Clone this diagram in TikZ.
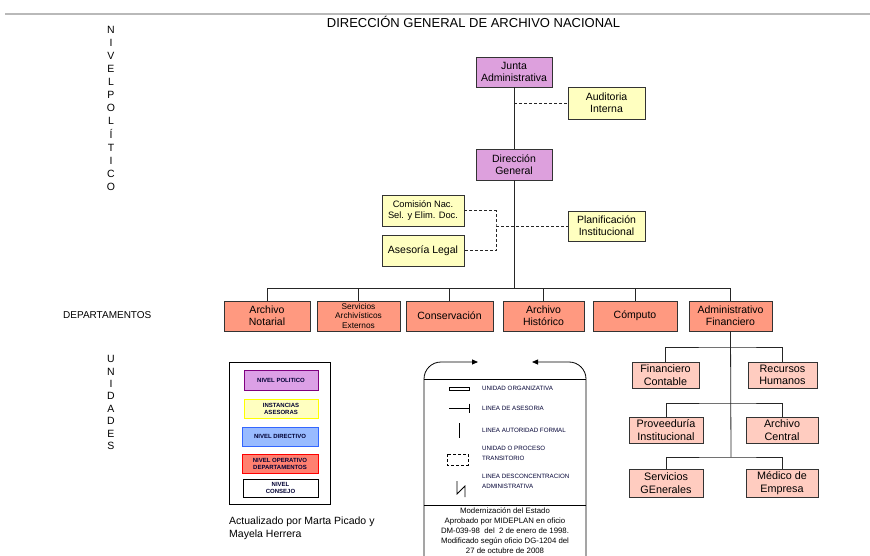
\documentclass[tikz,border=0pt]{standalone}
\usepackage{fontspec}
\setmainfont{Liberation Sans}
\usetikzlibrary{arrows.meta}
\definecolor{polc}{RGB}{221,160,221}
\definecolor{yelc}{RGB}{255,255,192}
\definecolor{depc}{RGB}{255,153,128}
\definecolor{unic}{RGB}{255,204,192}
\definecolor{lpolf}{RGB}{220,160,230}
\definecolor{lpold}{RGB}{128,0,128}
\definecolor{lyeld}{RGB}{255,255,0}
\definecolor{lbluf}{RGB}{153,187,255}
\definecolor{lblud}{RGB}{51,102,255}
\definecolor{lredf}{RGB}{255,128,112}
\definecolor{lredd}{RGB}{255,0,0}
\begin{document}
\begin{tikzpicture}[x=1pt,y=-1pt,
  boxbase/.style={draw=black!80,line width=0.9pt,align=center,inner sep=0pt,
    font=\fontsize{10.5}{12}\selectfont},
  polbox/.style={boxbase,fill=polc,minimum width=76pt,minimum height=30pt},
  asebox/.style={boxbase,fill=yelc,minimum width=77pt,minimum height=31pt},
  depbox/.style={boxbase,fill=depc,minimum height=30pt},
  unibox/.style={boxbase,fill=unic,minimum height=27pt,font=\fontsize{10.8}{12.5}\selectfont},
  conn/.style={line width=0.8pt,draw=black!85},
  advline/.style={conn,dash pattern=on 3pt off 2pt},
  legbox/.style={line width=0.8pt,align=center,inner sep=0pt,minimum width=75pt,minimum height=19pt,
    font=\fontsize{6}{7}\selectfont\bfseries,text=black!80!blue},
  legtxt/.style={anchor=west,align=left,inner sep=0pt,font=\fontsize{6.2}{10.5}\selectfont,text=black!80!blue},
  sidelet/.style={inner sep=0pt,font=\fontsize{10.5}{12}\selectfont}
]
\useasboundingbox (0,0) rectangle (870,556);
% top rule
\draw[gray!55,line width=2.6pt] (5,14) -- (870,14);
\node[inner sep=0pt,font=\fontsize{13}{14}\selectfont] (title) at (473.5,22) {DIRECCIÓN GENERAL DE ARCHIVO NACIONAL};
% side labels
\foreach \l [count=\i from 0] in {N,I,V,E,L,P,O,L,Í,T,I,C,O}
  \node[sidelet] (np\i) at (111,{30+13.05*\i}) {\l};
\node[sidelet,anchor=west,font=\fontsize{10}{12}\selectfont] (deplab) at (63,315) {DEPARTAMENTOS};
\foreach \l [count=\i from 0] in {U,N,I,D,A,D,E,S}
  \node[sidelet] (un\i) at (111,{359+12.45*\i}) {\l};
% political level
\node[polbox] (junta) at (514,72) {Junta\\Administrativa};
\node[asebox,minimum height=32pt] (audit) at (606.5,103) {Auditoria\\Interna};
\node[polbox,minimum height=31pt] (dir) at (514,164.5) {Dirección\\General};
\node[asebox,minimum width=82pt,font=\fontsize{9.3}{11}\selectfont] (comis) at (423,210.5) {Comisión Nac.\\Sel. y Elim. Doc.};
\node[asebox,minimum width=82pt] (legal) at (423,250.5) {Asesoría Legal};
\node[asebox,minimum height=30pt] (plan) at (606.5,226) {Planificación\\Institucional};
\draw[conn] (junta.south) -- (dir.north);
\draw[advline] (junta.south |- audit.west) -- (audit.west);
\coordinate (dj) at (496,226);
\draw[advline] (comis.east) -| (dj) |- (legal.east);
\draw[advline] (dj) -- (plan.west);
% departments
\node[depbox,minimum width=86pt] (an) at (267,316) {Archivo\\Notarial};
\node[depbox,minimum width=83pt,font=\fontsize{8.3}{9.2}\selectfont] (sae) at (358.5,316) {Servicios\\Archivísticos\\Externos};
\node[depbox,minimum width=87pt] (cons) at (449.5,316) {Conservación};
\node[depbox,minimum width=81pt] (ah) at (543.5,316) {Archivo\\Histórico};
\node[depbox,minimum width=84pt] (comp) at (635,316) {Cómputo};
\node[depbox,minimum width=83pt] (af) at (730.5,316) {Administrativo\\Financiero};
\coordinate (bus) at (514,288);
\draw[conn] (dir.south) -- (bus);
\draw[conn] (an.north |- bus) -- (af.north |- bus);
\foreach \d in {an,sae,cons,ah,comp,af}
  \draw[conn] (\d.north |- bus) -- (\d.north);
% units
\node[unibox,minimum width=67pt,minimum height=26pt] (fc) at (665.5,375) {Financiero\\Contable};
\node[unibox,minimum width=69pt,minimum height=26pt] (rh) at (782.5,375) {Recursos\\Humanos};
\node[unibox,minimum width=74pt,minimum height=26pt] (pi) at (666,430) {Proveeduría\\Institucional};
\node[unibox,minimum width=72pt,minimum height=26pt] (ac) at (782,430) {Archivo\\Central};
\node[unibox,minimum width=74pt,minimum height=28pt] (sg) at (666,483) {Servicios\\GEnerales};
\node[unibox,minimum width=72pt,minimum height=28pt] (me) at (782,483) {Médico de\\Empresa};
\coordinate (u1) at (731,347);
\coordinate (u2) at (731,403);
\coordinate (u3) at (731,457);
\draw[conn] (af.south) -- (u3);
\draw[conn] (fc.north) |- (u1) -| (rh.north);
\draw[conn] (pi.north) |- (u2) -| (ac.north);
\draw[conn] (sg.north) |- (u3) -| (me.north);
% legend 1
\draw[line width=0.7pt] (229,362) rectangle (330,504);
\node[legbox,draw=lpold,fill=lpolf,minimum width=74pt,minimum height=20pt] (l1) at (281,380) {NIVEL POLITICO};
\node[legbox,draw=lyeld,fill=yelc,minimum width=74pt] (l2) at (281,408.5) {INSTANCIAS\\ASESORAS};
\node[legbox,draw=lblud,fill=lbluf,minimum width=76pt] (l3) at (280,436.5) {NIVEL DIRECTIVO};
\node[legbox,draw=lredd,fill=lredf,minimum width=76pt] (l4) at (280,463.5) {NIVEL OPERATIVO\\DEPARTAMENTOS};
\node[legbox,draw=black,fill=white,minimum width=75pt,minimum height=18pt] (l5) at (280.5,488) {NIVEL\\CONSEJO};
\node[anchor=north west,align=left,inner sep=0pt,font=\fontsize{10.5}{13}\selectfont] (upd) at (229,517) {Actualizado por Marta Picado y\\Mayela Herrera};
% legend 2
\draw[line width=0.8pt,-{Triangle[length=6pt,width=5pt]}] (424,600) -- (424,379) to[out=90,in=180] (441,362) -- (478,362);
\draw[line width=0.8pt,-{Triangle[length=6pt,width=5pt]}] (586,600) -- (586,379) to[out=90,in=0] (569,362) -- (532,362);
\draw[line width=0.7pt] (424,379) -- (586,379);
\draw[line width=0.7pt] (424,505) -- (586,505);
\draw[line width=0.7pt] (449,387) rectangle (469,390.5);
\node[legtxt] (t1) at (482,388) {UNIDAD ORGANIZATIVA};
\draw[line width=0.8pt] (449,408) -- (469,408);
\draw[line width=0.8pt] (469,403.5) -- (469,412.5);
\node[legtxt] (t2) at (482,408) {LINEA DE ASESORIA};
\draw[line width=0.8pt] (459,423) -- (459,438);
\node[legtxt] (t3) at (482,430) {LINEA AUTORIDAD FORMAL};
\draw[line width=0.8pt,dash pattern=on 3pt off 2pt] (447,454) rectangle (468,465);
\node[legtxt] (t4) at (482,453.5) {UNIDAD O PROCESO\\TRANSITORIO};
\draw[line width=0.8pt] (457,481) -- (457,494) -- (465,486) -- (465,497);
\node[legtxt] (t5) at (482,481.5) {LINEA DESCONCENTRACION\\ADMINISTRATIVA};
\node[align=center,inner sep=0pt,font=\fontsize{7.8}{10}\selectfont] (note) at (505,531) {Modernización del Estado\\Aprobado por MIDEPLAN en oficio\\DM-039-98\ \ del\ \ 2 de enero de 1998.\\Modificado según oficio DG-1204 del\\27 de octubre de 2008};
\end{tikzpicture}
\end{document}
